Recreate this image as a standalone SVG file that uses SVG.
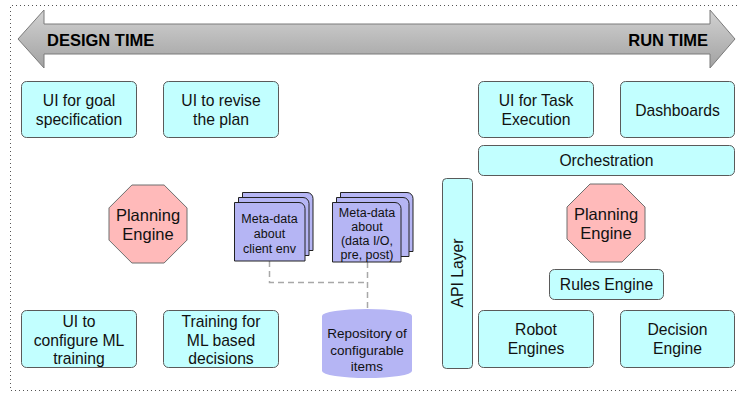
<svg xmlns="http://www.w3.org/2000/svg" width="737" height="394" viewBox="0 0 737 394">
  <defs>
    <linearGradient id="timeGrad" x1="0" y1="0" x2="0" y2="1">
      <stop offset="0" stop-color="#d2d2d2"/>
      <stop offset="1" stop-color="#a2a2a2"/>
    </linearGradient>
    <style>
      .box { fill: #c2ffff; stroke: #5a5a5a; stroke-width: 1; }
      .oct { fill: #ffbaba; stroke: #6e6e6e; stroke-width: 1; }
      .card { fill: #b5b5f4; stroke: #222; stroke-width: 1; }
      .repo { fill: #b5b5f4; }
      .t { font-family: "Liberation Sans", Arial, sans-serif; font-size: 15.7px; fill: #111; text-anchor: middle; }
      .tm { font-family: "Liberation Sans", Arial, sans-serif; font-size: 12.5px; fill: #111; text-anchor: middle; }
      .tr { font-family: "Liberation Sans", Arial, sans-serif; font-size: 13.5px; fill: #111; text-anchor: middle; }
      .to { font-family: "Liberation Sans", Arial, sans-serif; font-size: 16.5px; fill: #111; text-anchor: middle; }
      .big { font-family: "Liberation Sans", Arial, sans-serif; font-size: 16.5px; font-weight: bold; fill: #000; }
      .frame { stroke: #555; stroke-width: 1; stroke-dasharray: 1 3; fill: none; }
      .link { stroke: #a8a8a8; stroke-width: 1.5; stroke-dasharray: 6 4; fill: none; }
    </style>
  </defs>

  <!-- dotted frame -->
  <path class="frame" d="M737 5.5 H10.5 V390.5 H737"/>

  <!-- design time / run time arrow -->
  <g id="timeline">
    <polygon points="18,39 44,10 44,24 710,24 710,10 735,39 710,68 710,54 44,54 44,68" fill="url(#timeGrad)" stroke="#7a7a7a" stroke-width="1"/>
    <text class="big" x="47" y="46">DESIGN TIME</text>
    <text class="big" x="708" y="46" text-anchor="end">RUN TIME</text>
  </g>

  <!-- connectors -->
  <g id="connectors">
    <path class="link" d="M269.5 261 V282.5 H367.5"/>
    <path class="link" d="M367.5 262 V309"/>
  </g>

  <!-- design-time nodes -->
  <g id="ui-goal">
    <rect class="box" x="21.5" y="81.5" width="115" height="56" rx="5"/>
    <text class="t" x="79" y="106">UI for goal</text>
    <text class="t" x="79" y="124.5">specification</text>
  </g>
  <g id="ui-revise">
    <rect class="box" x="163.5" y="81.5" width="115" height="56" rx="5"/>
    <text class="t" x="221" y="106">UI to revise</text>
    <text class="t" x="221" y="124.5">the plan</text>
  </g>
  <g id="planning-engine-design">
    <polygon class="oct" points="131.9,185 164.1,185 187,207.9 187,240.1 164.1,263 131.9,263 109,240.1 109,207.9"/>
    <text class="to" x="148" y="221">Planning</text>
    <text class="to" x="148" y="239.5">Engine</text>
  </g>
  <g id="meta-client">
    <path class="card" d="M242.5 192.5 H307 A6 6 0 0 1 313 198.5 V250.5 H242.5 Z"/>
    <path class="card" d="M238.5 197.5 H303 A6 6 0 0 1 309 203.5 V255.5 H238.5 Z"/>
    <path class="card" d="M234.5 202.5 H299 A6 6 0 0 1 305 208.5 V261 H234.5 Z"/>
    <text class="tm" x="269.5" y="222.5">Meta-data</text>
    <text class="tm" x="269.5" y="237.5">about</text>
    <text class="tm" x="269.5" y="252.5">client env</text>
  </g>
  <g id="meta-data-io">
    <path class="card" d="M340.5 192.5 H407 A6 6 0 0 1 413 198.5 V251.5 H340.5 Z"/>
    <path class="card" d="M336.5 197.5 H403 A6 6 0 0 1 409 203.5 V256.5 H336.5 Z"/>
    <path class="card" d="M332.5 202.5 H395 A6 6 0 0 1 401 208.5 V262 H332.5 Z"/>
    <text class="tm" x="367" y="216.5">Meta-data</text>
    <text class="tm" x="367" y="230.5">about</text>
    <text class="tm" x="367" y="244.5">(data I/O,</text>
    <text class="tm" x="367" y="258.5">pre, post)</text>
  </g>
  <g id="repository">
    <path class="repo" d="M322 316 A45 7 0 0 1 412 316 V371 A45 7 0 0 1 322 371 Z"/>
    <text class="tr" x="367" y="338">Repository of</text>
    <text class="tr" x="367" y="355">configurable</text>
    <text class="tr" x="367" y="371">items</text>
  </g>
  <g id="ui-ml-training">
    <rect class="box" x="21.5" y="310.5" width="115" height="57" rx="5"/>
    <text class="t" x="79" y="327">UI to</text>
    <text class="t" x="79" y="345.5">configure ML</text>
    <text class="t" x="79" y="364">training</text>
  </g>
  <g id="ml-training">
    <rect class="box" x="163.5" y="310.5" width="115" height="57" rx="5"/>
    <text class="t" x="221" y="327">Training for</text>
    <text class="t" x="221" y="345.5">ML based</text>
    <text class="t" x="221" y="364">decisions</text>
  </g>

  <!-- run-time nodes -->
  <g id="api-layer">
    <rect class="box" x="442.5" y="178.5" width="30" height="190" rx="4"/>
    <text class="t" x="0" y="0" transform="translate(463 273) rotate(-90)">API Layer</text>
  </g>
  <g id="ui-task">
    <rect class="box" x="478.5" y="81.5" width="115" height="56" rx="5"/>
    <text class="t" x="536" y="106">UI for Task</text>
    <text class="t" x="536" y="124.5">Execution</text>
  </g>
  <g id="dashboards">
    <rect class="box" x="620.5" y="81.5" width="114" height="56" rx="5"/>
    <text class="t" x="677.5" y="115.5">Dashboards</text>
  </g>
  <g id="orchestration">
    <rect class="box" x="478.5" y="145.5" width="256" height="30" rx="5"/>
    <text class="t" x="606.5" y="166">Orchestration</text>
  </g>
  <g id="planning-engine-run">
    <polygon class="oct" points="590,184 622,184 645,207 645,239 622,262 590,262 567,239 567,207"/>
    <text class="to" x="606" y="220">Planning</text>
    <text class="to" x="606" y="238.5">Engine</text>
  </g>
  <g id="rules-engine">
    <rect class="box" x="549.5" y="269.5" width="114" height="30" rx="5"/>
    <text class="t" x="606.5" y="290">Rules Engine</text>
  </g>
  <g id="robot-engines">
    <rect class="box" x="478.5" y="310.5" width="115" height="57" rx="5"/>
    <text class="t" x="536" y="334.5">Robot</text>
    <text class="t" x="536" y="354">Engines</text>
  </g>
  <g id="decision-engine">
    <rect class="box" x="620.5" y="310.5" width="114" height="57" rx="5"/>
    <text class="t" x="677.5" y="334.5">Decision</text>
    <text class="t" x="677.5" y="354">Engine</text>
  </g>
</svg>
